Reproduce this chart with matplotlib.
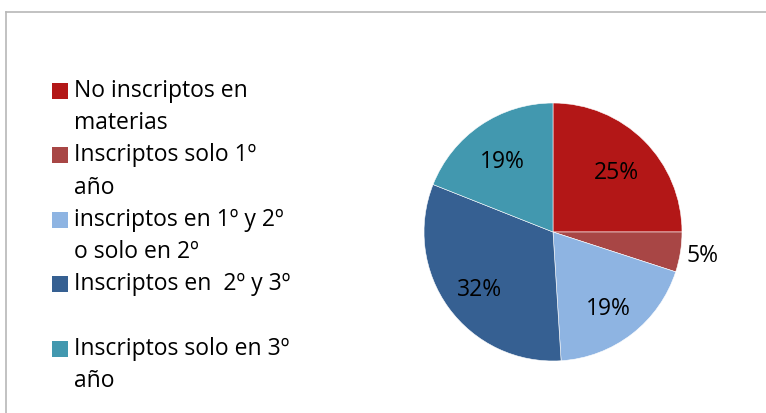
import numpy as np
import matplotlib.pyplot as plt
from matplotlib.patches import Rectangle
from matplotlib.lines import Line2D

# datos del grafico
categorias = ['No inscriptos en\nmaterias',
              'Inscriptos solo 1º\naño',
              'inscriptos en 1º y 2º\no solo en 2º',
              'Inscriptos en  2º y 3º\n ',
              'Inscriptos solo en 3º\naño']
porcentajes = [25, 5, 19, 32, 19]
colores = ['#B31717', '#A84645', '#8EB4E2', '#366092', '#4298AF']

W, H = 766, 413
fig = plt.figure(figsize=(W / 100, H / 100), dpi=100)
plt.rcParams['font.family'] = ['Open Sans', 'DejaVu Sans']

# marco gris del area del grafico (solo se ve arriba y a la izquierda)
fig.add_artist(Line2D([5.5 / W, 5.5 / W], [0, 1 - 12 / H], transform=fig.transFigure,
                      color='#B8B8B8', linewidth=1.2))
fig.add_artist(Line2D([5.5 / W, 1], [1 - 12 / H, 1 - 12 / H], transform=fig.transFigure,
                      color='#B8B8B8', linewidth=1.2))

# torta
ax = fig.add_axes([424 / W, (H - 361) / H, 258 / W, 258 / H])
cuñas, textos, pcts = ax.pie(porcentajes, colors=colores, startangle=90, counterclock=False,
                             autopct='%1.0f%%', pctdistance=0.7,
                             wedgeprops=dict(edgecolor='white', linewidth=0.4),
                             textprops=dict(fontsize=16.5, color='black'))
ax.set_xlim(-1, 1)
ax.set_ylim(-1, 1)
ax.set_aspect('equal')

# la etiqueta del 5% va afuera; las demas un poco mas abajo
for w, t, p in zip(cuñas, pcts, porcentajes):
    ang = np.deg2rad((w.theta1 + w.theta2) / 2)
    if p < 10:
        t.set_position((1.17 * np.cos(ang), 1.17 * np.sin(ang)))
    else:
        x, y = t.get_position()
        t.set_position((x, y - 0.04))

# leyenda manual (el marcador alineado con la primera linea)
y0 = 91
paso = 32.2
fila = 0
for lab, col in zip(categorias, colores):
    yc = y0 + paso * fila
    fig.add_artist(Rectangle((52 / W, 1 - (yc + 8) / H), 16 / W, 16 / H,
                             transform=fig.transFigure, facecolor=col, edgecolor='none'))
    for k, linea in enumerate(lab.split('\n')):
        fig.text(74 / W, 1 - (yc + paso * k) / H, linea, fontsize=16.5,
                 va='center', ha='left', color='black')
    fila += 2

plt.savefig('out.png', dpi=100)
